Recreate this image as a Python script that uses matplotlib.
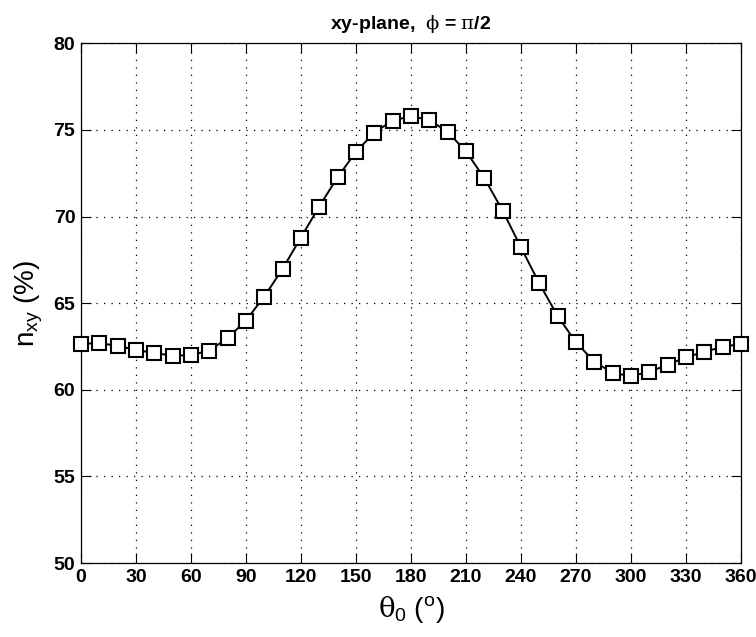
import numpy as np
import matplotlib
matplotlib.use("Agg")
import matplotlib.pyplot as plt

# angle theta_0 in degrees, efficiency n_xy in percent
theta = np.arange(0, 361, 10)
n_xy = [62.65, 62.70, 62.54, 62.31, 62.12, 61.98, 62.00, 62.27, 62.98, 64.00,
        65.38, 66.98, 68.79, 70.58, 72.27, 73.73, 74.85, 75.54, 75.79, 75.58,
        74.89, 73.77, 72.23, 70.35, 68.23, 66.15, 64.27, 62.75, 61.63, 60.98,
        60.79, 61.04, 61.44, 61.88, 62.19, 62.48, 62.65]

xticks = np.arange(0, 361, 30)
yticks = np.arange(50, 81, 5)

plt.rcParams['font.family'] = ['Liberation Sans', 'DejaVu Sans']
plt.rcParams['mathtext.fontset'] = 'custom'
plt.rcParams['mathtext.rm'] = 'Liberation Sans'
plt.rcParams['mathtext.it'] = 'DejaVu Serif'

fig = plt.figure(figsize=(7.56, 6.37), dpi=100)
ax = fig.add_axes([0.107, 0.116, 0.873, 0.816])

ax.plot(theta, n_xy, '-s', color='black', lw=1.4, markersize=9.5,
        markerfacecolor='white', markeredgecolor='black', markeredgewidth=1.5,
        clip_on=False, zorder=5)

ax.set_xlim(0, 360)
ax.set_ylim(50, 80)
ax.set_xticks(xticks)
ax.set_yticks(yticks)
ax.grid(True, linestyle=(0, (1, 5)), color='black', lw=0.9)
ax.tick_params(direction='in', top=True, right=True, length=7, width=0.8,
               labelsize=14, pad=4)
for lab in ax.get_xticklabels() + ax.get_yticklabels():
    lab.set_fontweight('bold')
for s in ax.spines.values():
    s.set_linewidth(0.9)

ax.set_title(r'xy-plane,  $\phi$ = $\pi$/2', fontsize=14, fontweight='bold', pad=10)
ax.set_xlabel(r'$\theta_0$ ($^\mathrm{o}$)', fontsize=20, labelpad=6)
ax.set_ylabel(r'$\mathrm{n_{xy}}$ (%)', fontsize=20, labelpad=6)

fig.savefig('out.png', dpi=100)
